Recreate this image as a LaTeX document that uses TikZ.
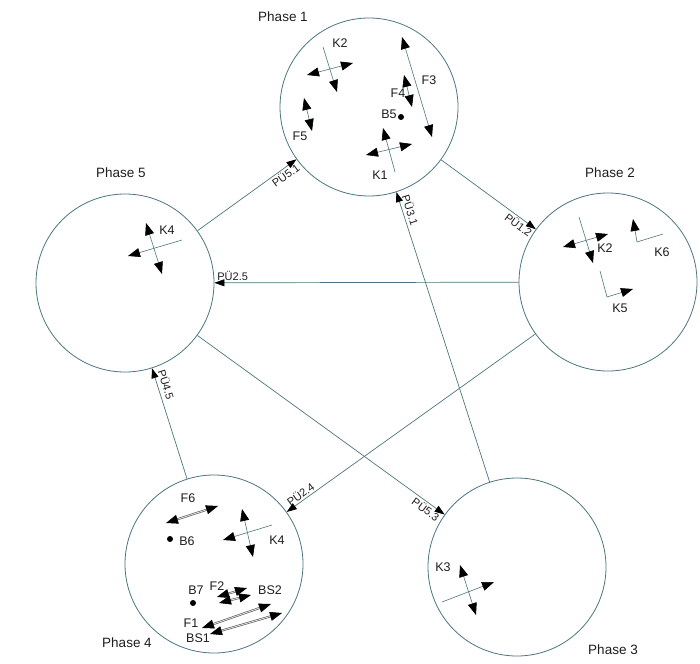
\documentclass[tikz,border=0pt]{standalone}
\usepackage{fontspec}
\setmainfont{Liberation Sans}
\usetikzlibrary{arrows.meta}
\definecolor{ln}{RGB}{78,118,128}
\definecolor{tx}{RGB}{30,30,30}
\tikzset{
  hd/.tip={Triangle[length=12pt,width=9pt,color=black]},
  ch/.tip={Triangle[length=10pt,width=7pt,color=black]},
}
\begin{document}
\begin{tikzpicture}[x=1pt,y=-1pt,
  phase/.style={circle,draw=ln,line width=0.8pt,minimum size=178pt,inner sep=0pt},
  conn/.style={draw=ln,line width=0.7pt,-{ch}},
  plabel/.style={text=tx,inner sep=0pt,font=\fontsize{13.5}{15}\selectfont},
  ilabel/.style={text=tx,inner sep=0pt,font=\fontsize{12.5}{14}\selectfont},
  ulabel/.style={text=tx,inner sep=1.5pt,font=\fontsize{11}{12}\selectfont},
  inl/.style={draw=ln,line width=0.6pt},
  dbl/.style={draw=gray!60!black,double=gray!25,double distance=0.9pt,line width=0.55pt},
  dotb/.style={circle,fill=black,inner sep=0pt,minimum size=6pt},
]
\useasboundingbox[fill=white] (0,0) rectangle (700,663);

% phases
\node[phase] (p1) at (369,107) {};
\node[phase] (p2) at (608,282) {};
\node[phase] (p3) at (517,567) {};
\node[phase] (p4) at (214,564) {};
\node[phase] (p5) at (125,283) {};

\node[plabel] (l1) at (283,17) {Phase 1};
\node[plabel] (l2) at (610,173) {Phase 2};
\node[plabel] (l3) at (613,650) {Phase 3};
\node[plabel] (l4) at (127,643) {Phase 4};
\node[plabel] (l5) at (121,173) {Phase 5};

% transitions
\draw[conn] (p5) -- node[ulabel,pos=0.85,sloped,below] (u51) {PÜ5.1} (p1);
\draw[conn] (p1) -- node[ulabel,pos=0.86,sloped,below] (u12) {PÜ1.2} (p2);
\draw[conn] (p2) -- node[ulabel,pos=0.94,above] (u25) {PÜ2.5} (p5);
\draw[conn] (p3) -- node[ulabel,pos=0.93,sloped,above=1.5pt] (u31) {PÜ3.1} (p1);
\draw[conn] (p2) -- node[ulabel,pos=0.93,sloped,above] (u24) {PÜ2.4} (p4);
\draw[conn] (p5) -- node[ulabel,pos=0.94,sloped,below] (u53) {PÜ5.3} (p3);
\draw[conn] (p4) -- node[ulabel,pos=0.83,sloped,above=2.5pt] (u45) {PÜ4.5} (p5);

% Phase 1 interior
\draw[inl,-{hd}] (323,47) -- (337,92);
\draw[inl,{hd}-{hd}] (307,75) -- (353,63);
\node[ilabel] (k2a) at (340,43) {K2};
\draw[inl,-{hd}] (395,172) -- (383,128);
\draw[inl,{hd}-{hd}] (366,155) -- (412,144);
\node[ilabel] (k1) at (380,175) {K1};
\draw[inl,{hd}-{hd}] (304,98) -- (312,131);
\node[ilabel] (f5) at (300,136) {F5};
\draw[inl,{hd}-{hd}] (404,75) -- (412,107);
\node[ilabel] (f4) at (398,93) {F4};
\draw[inl,{hd}-{hd}] (402,37) -- (432,137);
\node[ilabel] (f3) at (429,80) {F3};
\node[dotb] (b5d) at (401,117) {};
\node[ilabel] (b5) at (389,114) {B5};

% Phase 2 interior
\draw[inl,-{hd}] (579,217) -- (593,263);
\draw[inl,{hd}-{hd}] (563,247) -- (608,234);
\node[ilabel] (k2b) at (605,248) {K2};
\draw[inl,-{hd}] (663,234) -- (637,242) -- (633,219);
\node[ilabel] (k6) at (662,252) {K6};
\draw[inl,-{hd}] (600,271) -- (607,297) -- (633,289);
\node[ilabel] (k5) at (620,308) {K5};

% Phase 5 interior
\draw[inl,{hd}-{hd}] (146,223) -- (162,274);
\draw[inl,-{hd}] (182,240) -- (128,256);
\node[ilabel] (k4a) at (167,230) {K4};

% Phase 4 interior
\draw[dbl,{hd}-{hd}] (166,523) -- (218,506);
\node[ilabel] (f6) at (188,498) {F6};
\node[dotb] (b6d) at (170,539) {};
\node[ilabel] (b6) at (187,541) {B6};
\draw[inl,{hd}-{hd}] (242,509) -- (253,557);
\draw[inl,-{hd}] (272,525) -- (223,540);
\node[ilabel] (k4b) at (277,540) {K4};
\node[dotb] (b7d) at (193,603) {};
\node[ilabel] (b7) at (196,590) {B7};
\draw[dbl,{hd}-{hd}] (217,597) -- (247,588);
\draw[dbl,{hd}-{hd}] (219,603) -- (251,595);
\node[ilabel] (f2) at (217,586) {F2};
\node[ilabel] (bs2) at (270,590) {BS2};
\draw[dbl,{hd}-{hd}] (202,628) -- (271,604);
\draw[dbl,{hd}-{hd}] (210,634) -- (282,613);
\node[ilabel] (f1) at (191,623) {F1};
\node[ilabel] (bs1) at (198,638) {BS1};

% Phase 3 interior
\draw[inl,{hd}-{hd}] (460,565) -- (476,615);
\draw[inl,-{hd}] (442,602) -- (494,582);
\node[ilabel] (k3) at (443,567) {K3};
\end{tikzpicture}
\end{document}
